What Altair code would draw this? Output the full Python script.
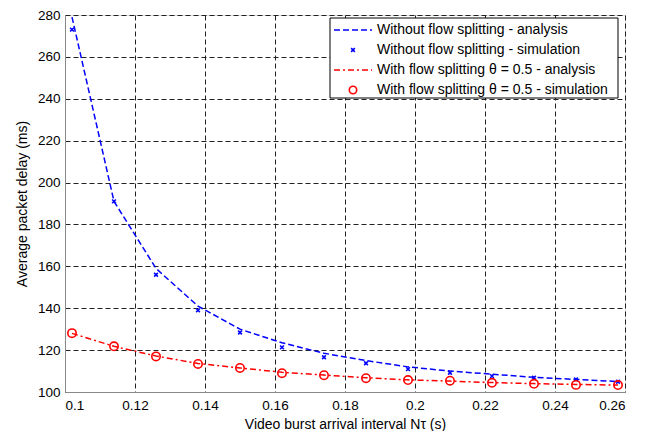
import altair as alt
import pandas as pd

# ---- data ----
x_vals = [0.102, 0.114, 0.126, 0.138, 0.150, 0.162, 0.174, 0.186, 0.198, 0.210, 0.222, 0.234, 0.246, 0.258]
no_split_analysis = [279, 191, 159, 141, 130, 123.5, 118.5, 115, 112, 110, 108.5, 107, 106, 105]
no_split_sim = [273, 191, 156, 139, 128.4, 121.3, 116.6, 113.7, 110.9, 109.2, 107.6, 106.8, 106.0, 104.9]
split_analysis = [128, 121.8, 117.2, 113.6, 111.5, 109.4, 108.1, 106.8, 105.8, 105.2, 104.5, 104.0, 103.6, 103.3]
split_sim = [128.1, 121.8, 117.0, 113.4, 111.5, 109.0, 108.0, 106.6, 105.7, 105.4, 104.4, 103.9, 103.4, 103.3]

x_ticks = [0.1, 0.12, 0.14, 0.16, 0.18, 0.2, 0.22, 0.24, 0.26]
y_ticks = [100, 120, 140, 160, 180, 200, 220, 240, 260, 280]

legend_labels = [
    "Without flow splitting - analysis",
    "Without flow splitting - simulation",
    "With flow splitting \u03b8 = 0.5 - analysis",
    "With flow splitting \u03b8 = 0.5 - simulation",
]

FONT = "Liberation Sans"
W, H = 560, 377

df = pd.DataFrame({
    "x": x_vals,
    "a1": no_split_analysis,
    "s1": no_split_sim,
    "a2": split_analysis,
    "s2": split_sim,
})

xscale = alt.Scale(domain=[0.1, 0.26], nice=False, zero=False)
yscale = alt.Scale(domain=[100, 280], nice=False, zero=False)

xaxis = alt.Axis(values=x_ticks, title="Video burst arrival interval N\u03c4  (s)",
                 grid=True, gridDash=[5, 3], gridColor="#222222", gridOpacity=1,
                 ticks=False, labelPadding=6, titlePadding=6, format="~g",
                 labelFontSize=13.5, titleFontSize=14, titleFontWeight="normal",
                 labelFont=FONT, titleFont=FONT)
yaxis = alt.Axis(values=y_ticks, title="Average packet delay (ms)",
                 grid=True, gridDash=[5, 3], gridColor="#222222", gridOpacity=1,
                 ticks=False, labelPadding=5, titlePadding=8,
                 labelFontSize=13.5, titleFontSize=14, titleFontWeight="normal",
                 labelFont=FONT, titleFont=FONT)

base = alt.Chart(df)
X = alt.X("x:Q", scale=xscale, axis=xaxis)

line1 = base.mark_line(color="#0000ff", strokeDash=[6, 3], strokeWidth=1.5).encode(
    x=X, y=alt.Y("a1:Q", scale=yscale, axis=yaxis))
pts1 = base.mark_point(shape="M-1,-1L1,1M1,-1L-1,1", color="#0000ff", size=14,
                       strokeWidth=1.6, filled=False, opacity=1).encode(
    x="x:Q", y="s1:Q")
line2 = base.mark_line(color="#ff0000", strokeDash=[6, 3, 2, 3], strokeWidth=1.5).encode(
    x="x:Q", y="a2:Q")
pts2 = base.mark_point(shape="circle", color="#ff0000", size=70,
                       strokeWidth=1.6, filled=False, opacity=1).encode(
    x="x:Q", y="s2:Q")

# ---- legend (manual, pixel positions within plot area) ----
one = alt.Data(values=[{}])
lx0, lx1, ly0, ly1 = 265, 553, 3, 83
rows_y = [15, 35, 55, 75]

box = alt.Chart(one).mark_rect(fill="white", stroke="black", strokeWidth=1).encode(
    x=alt.value(lx0), x2=alt.value(lx1), y=alt.value(ly0), y2=alt.value(ly1))
leg_l1 = alt.Chart(one).mark_rule(color="#0000ff", strokeDash=[6, 3], strokeWidth=1.5).encode(
    x=alt.value(269), x2=alt.value(307), y=alt.value(rows_y[0]))
leg_p1 = alt.Chart(one).mark_point(shape="M-1,-1L1,1M1,-1L-1,1", color="#0000ff", size=14,
                                   strokeWidth=1.6, opacity=1).encode(
    x=alt.value(288), y=alt.value(rows_y[1]))
leg_l2 = alt.Chart(one).mark_rule(color="#ff0000", strokeDash=[6, 3, 2, 3], strokeWidth=1.5).encode(
    x=alt.value(269), x2=alt.value(307), y=alt.value(rows_y[2]))
leg_p2 = alt.Chart(one).mark_point(shape="circle", color="#ff0000", size=55,
                                   strokeWidth=1.6, opacity=1).encode(
    x=alt.value(288), y=alt.value(rows_y[3]))

texts = []
for lab, yy in zip(legend_labels, rows_y):
    texts.append(alt.Chart(one).mark_text(text=lab, align="left", baseline="middle",
                                          font=FONT, fontSize=14, color="black").encode(
        x=alt.value(312), y=alt.value(yy)))

chart = alt.layer(line1, pts1, line2, pts2, box, leg_l1, leg_p1, leg_l2, leg_p2, *texts).properties(
    width=W, height=H,
    autosize=alt.AutoSizeParams(type="none"),
    padding={"left": 57, "top": 7, "right": 29, "bottom": 39},
).configure_view(stroke="black", strokeWidth=1.2).configure_axis(
    labelColor="black", titleColor="black", domainColor="black",
).configure(background="white")

chart.save("out.html", embed_options={"renderer": "svg", "actions": False})
